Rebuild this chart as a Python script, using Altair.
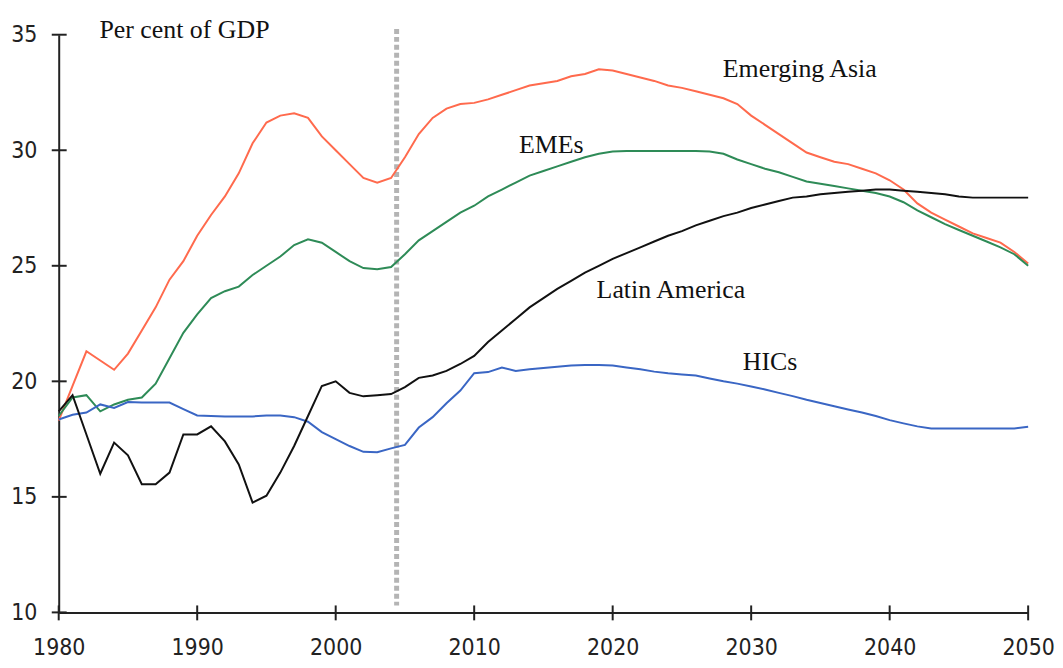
import altair as alt
import pandas as pd

years = list(range(1980, 2051))

emerging_asia = [18.3, 19.8, 21.3, 20.9, 20.5, 21.2, 22.2, 23.2, 24.4, 25.2,
                 26.3, 27.2, 28.0, 29.0, 30.3, 31.2, 31.5, 31.6, 31.4, 30.6,
                 30.0, 29.4, 28.8, 28.6, 28.8, 29.7, 30.7, 31.4, 31.8, 32.0,
                 32.05, 32.2, 32.4, 32.6, 32.8, 32.9, 33.0, 33.2, 33.3, 33.5,
                 33.45, 33.3, 33.15, 33.0, 32.8, 32.7, 32.55, 32.4, 32.25, 32.0,
                 31.5, 31.1, 30.7, 30.3, 29.9, 29.7, 29.5, 29.4, 29.2, 29.0,
                 28.7, 28.3, 27.7, 27.3, 27.0, 26.7, 26.4, 26.2, 26.0, 25.6,
                 25.1]

emes = [18.5, 19.3, 19.4, 18.7, 19.0, 19.2, 19.3, 19.9, 21.0, 22.1,
        22.9, 23.6, 23.9, 24.1, 24.6, 25.0, 25.4, 25.9, 26.15, 26.0,
        25.6, 25.2, 24.9, 24.85, 24.95, 25.5, 26.1, 26.5, 26.9, 27.3,
        27.6, 28.0, 28.3, 28.6, 28.9, 29.1, 29.3, 29.5, 29.7, 29.85,
        29.95, 29.97, 29.97, 29.97, 29.97, 29.97, 29.97, 29.95, 29.85, 29.6,
        29.4, 29.2, 29.05, 28.85, 28.65, 28.55, 28.45, 28.35, 28.25, 28.15,
        28.0, 27.75, 27.4, 27.1, 26.8, 26.55, 26.3, 26.05, 25.8, 25.5,
        25.0]

latin_america = [18.7, 19.4, 17.7, 16.0, 17.35, 16.8, 15.55, 15.55, 16.05, 17.7,
                 17.7, 18.05, 17.4, 16.4, 14.75, 15.05, 16.05, 17.2, 18.5, 19.8,
                 20.0, 19.5, 19.35, 19.4, 19.45, 19.75, 20.15, 20.25, 20.45, 20.75,
                 21.1, 21.7, 22.2, 22.7, 23.2, 23.6, 24.0, 24.35, 24.7, 25.0,
                 25.3, 25.55, 25.8, 26.05, 26.3, 26.5, 26.75, 26.95, 27.15, 27.3,
                 27.5, 27.65, 27.8, 27.95, 28.0, 28.1, 28.15, 28.2, 28.25, 28.3,
                 28.3, 28.25, 28.2, 28.15, 28.1, 28.0, 27.95, 27.95, 27.95, 27.95,
                 27.95]

hics = [18.35, 18.55, 18.65, 19.0, 18.85, 19.1, 19.08, 19.08, 19.08, 18.8,
        18.52, 18.5, 18.48, 18.48, 18.48, 18.52, 18.52, 18.45, 18.25, 17.8,
        17.5, 17.2, 16.95, 16.93, 17.1, 17.25, 18.0, 18.45, 19.05, 19.6,
        20.35, 20.4, 20.6, 20.45, 20.52, 20.58, 20.63, 20.68, 20.71, 20.71,
        20.68, 20.6, 20.52, 20.42, 20.35, 20.3, 20.25, 20.12, 20.0, 19.9,
        19.78, 19.65, 19.5, 19.36, 19.2, 19.06, 18.92, 18.78, 18.65, 18.5,
        18.32, 18.18, 18.05, 17.96, 17.96, 17.96, 17.96, 17.96, 17.96, 17.96,
        18.03]

series_names = ["Emerging Asia", "EMEs", "HICs", "Latin America"]
series_colors = ["#FF6A4D", "#2E8B57", "#3A66C4", "#111111"]

y_ticks = [10, 15, 20, 25, 30, 35]
x_ticks = [1980, 1990, 2000, 2010, 2020, 2030, 2040, 2050]

label_text = ["Per cent of GDP", "Emerging Asia", "EMEs", "Latin America", "HICs"]
label_x = [1982.94, 2027.95, 2013.24, 2018.84, 2029.39]
label_y = [34.87, 33.15, 29.88, 23.6, 20.5]

projection_year = [2004.4]
projection_top = [35.25]
projection_bottom = [10.3]

# ---- tables ----
rows = []
for name, vals in [("Emerging Asia", emerging_asia), ("EMEs", emes),
                   ("HICs", hics), ("Latin America", latin_america)]:
    for yr, v in zip(years, vals):
        rows.append({"year": yr, "value": v, "series": name})
df = pd.DataFrame(rows)

W, H = 975, 581
xs = alt.Scale(domain=[1980, 2050], nice=False, zero=False)
ys = alt.Scale(domain=[10, 35], nice=False, zero=False)
tick_font = "DejaVu Sans Condensed, Liberation Sans, sans-serif"
ax_x = alt.Axis(values=x_ticks, format="d", ticks=False, grid=False, title=None,
                labelFont=tick_font, labelFontSize=23, labelPadding=24,
                labelColor="#222", domainColor="#222", domainWidth=2, labelFlush=False)
ax_y = alt.Axis(values=y_ticks, ticks=False, grid=False, title=None,
                labelFont=tick_font, labelFontSize=23, labelPadding=22,
                labelColor="#222", domainColor="#222", domainWidth=2)

lines = alt.Chart(df).mark_line(strokeWidth=2).encode(
    x=alt.X("year:Q", scale=xs, axis=ax_x),
    y=alt.Y("value:Q", scale=ys, axis=ax_y),
    color=alt.Color("series:N", scale=alt.Scale(domain=series_names, range=series_colors),
                    legend=None),
)

proj = alt.Chart(pd.DataFrame({"x": projection_year, "y1": projection_top,
                               "y2": projection_bottom})).mark_rule(
    color="#B4B4B4", strokeWidth=5, strokeDash=[5, 3]).encode(
    x=alt.X("x:Q", scale=xs, axis=ax_x),
    y=alt.Y("y1:Q", scale=ys, axis=ax_y),
    y2="y2:Q",
)

ytick_rules = alt.Chart(pd.DataFrame({"v": y_ticks})).mark_rule(
    color="#222", strokeWidth=2).encode(
    y=alt.Y("v:Q", scale=ys, axis=ax_y),
    x=alt.value(-7), x2=alt.value(8),
)
xtick_rules = alt.Chart(pd.DataFrame({"v": x_ticks})).mark_rule(
    color="#222", strokeWidth=2).encode(
    x=alt.X("v:Q", scale=xs, axis=ax_x),
    y=alt.value(H - 7), y2=alt.value(H + 8),
)

labels = alt.Chart(pd.DataFrame({"t": label_text, "x": label_x, "y": label_y})).mark_text(
    align="left", baseline="alphabetic", font="Liberation Serif", fontSize=26,
    color="#111").encode(
    x=alt.X("x:Q", scale=xs, axis=ax_x),
    y=alt.Y("y:Q", scale=ys, axis=ax_y),
    text="t:N",
)

chart = alt.layer(proj, lines, ytick_rules, xtick_rules, labels).properties(
    width=W, height=H,
    autosize=alt.AutoSizeParams(type="none"),
    padding={"left": 51, "top": 25, "right": 27, "bottom": 45},
).configure_view(stroke=None)

chart.save("out.html", embed_options={"renderer": "svg", "actions": False})
